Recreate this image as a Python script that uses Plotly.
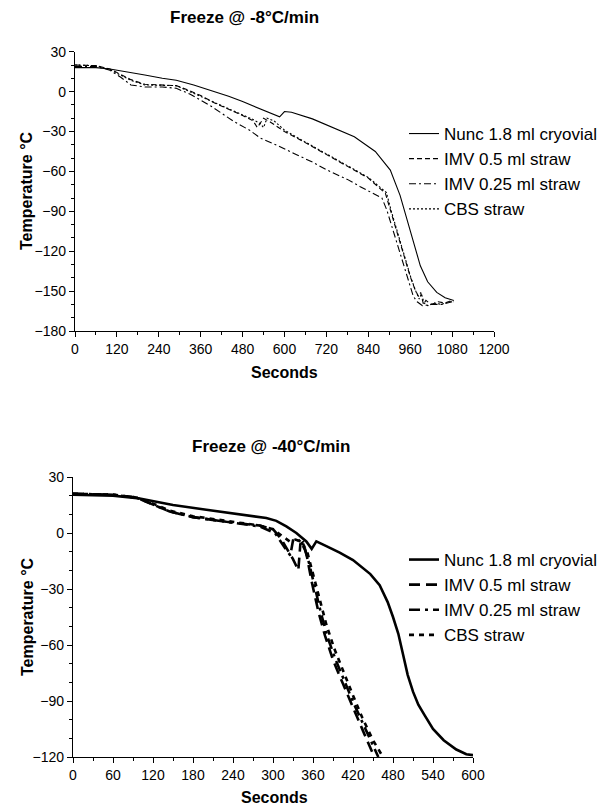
import plotly.graph_objects as go

W, H = 605, 806

# ---------------- Data: Freeze @ -8°C/min ----------------
t8_nunc_s = [0, 60, 100, 150, 200, 250, 290, 340, 390, 440, 480, 530, 580, 586, 600, 620, 680, 740, 800, 860, 903, 931, 950, 970, 989, 1010, 1036, 1060, 1085]
t8_nunc_T = [18, 18, 17, 15, 12.5, 10, 8.5, 5, 1, -3.5, -7.5, -13, -18.5, -19, -15, -15.5, -20.5, -27, -34, -45, -59, -78, -95, -114, -131, -143, -151, -155, -157]

t8_imv05_s = [0, 60, 100, 130, 160, 200, 250, 290, 320, 360, 400, 440, 480, 510, 522, 530, 540, 560, 600, 650, 720, 780, 840, 889, 903, 931, 960, 974, 984, 990, 998, 1005, 1020, 1040, 1060, 1080]
t8_imv05_T = [20, 19.5, 17, 13, 9, 5.5, 5, 4.5, 1.5, -3, -8.5, -13, -18, -22, -27, -24, -20, -23, -30, -37, -47.5, -56, -65, -76.5, -89, -114, -139, -149, -154, -151, -160, -157, -160, -158, -159, -157]

t8_imv025_s = [0, 60, 100, 130, 160, 200, 250, 290, 330, 390, 455, 500, 531, 580, 627, 680, 722, 780, 817, 860, 879, 893, 922, 950, 969, 980, 995, 1020, 1050, 1080]
t8_imv025_T = [19, 19, 16, 11, 5, 3.5, 3.5, 2.5, -2, -11, -22.5, -29, -35, -40.5, -46.5, -53, -59, -66, -71.5, -77, -80, -89, -114, -139, -154, -158, -161, -160, -160, -158]

t8_cbs_s = [0, 60, 100, 130, 160, 200, 250, 290, 320, 360, 400, 440, 480, 510, 530, 540, 550, 570, 600, 650, 720, 780, 840, 892, 906, 934, 962, 976, 986, 992, 1000, 1010, 1030, 1050, 1070, 1085]
t8_cbs_T = [20, 19.5, 16.5, 12.5, 8.5, 5, 4.5, 4.5, 1, -3.5, -8, -12.5, -17.5, -21, -24, -27, -20, -22, -29, -36.5, -47, -55.5, -64.5, -76, -90, -115, -140, -150, -156, -152, -159, -161, -159, -160, -158, -158]

# ---------------- Data: Freeze @ -40°C/min ----------------
t40_nunc_s = [0, 60, 100, 150, 200, 250, 290, 305, 320, 335, 350, 358, 365, 380, 400, 420, 446, 460, 472, 480, 488, 495, 502, 510, 518, 528, 540, 556, 575, 590, 600]
t40_nunc_T = [20.5, 20, 18.5, 15, 12.5, 10, 8, 6.5, 3.5, 0, -4.5, -8.5, -4.5, -7, -10.5, -14.5, -22, -28, -37, -45, -54, -65, -76, -85, -92, -98, -105, -111, -116, -118.5, -119]

t40_imv05_s = [0, 60, 95, 115, 145, 180, 230, 280, 300, 312, 320, 330, 338, 341, 345, 350, 358, 368, 378, 390, 404, 418, 435, 452]
t40_imv05_T = [21, 20.5, 19, 16, 11.5, 8.5, 6, 4, 2, -3, -8, -14, -20, -6, -5, -11, -26, -42, -55, -68, -80, -92, -106, -120]

t40_imv025_s = [0, 60, 95, 115, 145, 180, 230, 280, 303, 310, 318, 326, 330, 336, 342, 348, 354, 362, 372, 382, 394, 408, 422, 440, 458]
t40_imv025_T = [21, 20.5, 19, 16, 11.5, 8.5, 6, 3.5, 0, -4, -8, -12, -4, -3, -5, -9, -16, -28, -43, -56, -68, -80, -92, -106, -120]

t40_cbs_s = [0, 60, 95, 115, 145, 180, 230, 280, 300, 315, 325, 334, 344, 352, 360, 370, 380, 392, 406, 420, 434, 450, 465]
t40_cbs_T = [21, 20.5, 19, 16.5, 12, 9, 6.5, 4, 2, -2, -4.5, -3.5, -5, -11, -22, -36, -49, -62, -75, -87, -99, -111, -120]

names = ["Nunc 1.8 ml cryovial", "IMV 0.5 ml straw", "IMV 0.25 ml straw", "CBS straw"]

FONT = "Liberation Sans, Arial, sans-serif"

fig = go.Figure()

top_series = [(t8_nunc_s, t8_nunc_T), (t8_imv05_s, t8_imv05_T), (t8_imv025_s, t8_imv025_T), (t8_cbs_s, t8_cbs_T)]
top_dash = ["solid", "5px,3px", "7px,3px,2px,3px", "2px,2px"]
for i, ((s, T), nm) in enumerate(zip(top_series, names)):
    fig.add_trace(go.Scatter(x=s, y=T, mode="lines", name=nm,
                             line=dict(color="black", width=1.1, dash=top_dash[i]),
                             xaxis="x", yaxis="y", legend="legend", legendgroup="a%d" % i))

bot_series = [(t40_nunc_s, t40_nunc_T), (t40_imv05_s, t40_imv05_T), (t40_imv025_s, t40_imv025_T), (t40_cbs_s, t40_cbs_T)]
bot_dash = ["solid", "11px,6px", "11px,5px,3px,5px", "5px,5px"]
for i, ((s, T), nm) in enumerate(zip(bot_series, names)):
    fig.add_trace(go.Scatter(x=s, y=T, mode="lines", name=nm,
                             line=dict(color="black", width=2.6, dash=bot_dash[i]),
                             xaxis="x2", yaxis="y2", legend="legend2", legendgroup="b%d" % i))

def px(x):
    return x / W

def py(y):
    return 1 - y / H

axis_common = dict(showline=True, linecolor="black", linewidth=1.2, ticks="outside", ticklen=5,
                   tickwidth=1.2, tickcolor="black", showgrid=False, zeroline=False, automargin=False,
                   tickfont=dict(family=FONT, size=14, color="black"), mirror=False)

fig.update_layout(
    template="none",
    width=W, height=H, margin=dict(l=0, r=0, t=0, b=0, autoexpand=False),
    paper_bgcolor="white", plot_bgcolor="white",
    font=dict(family=FONT, color="black"),
    xaxis=dict(domain=[px(75), px(494)], range=[0, 1200], dtick=120, tick0=0, anchor="y",
               minor=dict(dtick=60, ticks="outside", ticklen=3, tickcolor="black", tickwidth=1.2), **axis_common),
    yaxis=dict(domain=[py(331), py(51.7)], range=[-180, 30], dtick=30, tick0=0, anchor="x",
               minor=dict(dtick=10, ticks="outside", ticklen=3, tickcolor="black", tickwidth=1.2), **axis_common),
    xaxis2=dict(domain=[px(73), px(473)], range=[0, 600], dtick=60, tick0=0, anchor="y2",
                minor=dict(dtick=30, ticks="outside", ticklen=3, tickcolor="black", tickwidth=1.2), **axis_common),
    yaxis2=dict(domain=[py(757), py(477)], range=[-120, 30], dtick=30, tick0=0, anchor="x2",
                minor=dict(dtick=10, ticks="outside", ticklen=3, tickcolor="black", tickwidth=1.2), **axis_common),
    legend=dict(x=px(404), y=py(116), xanchor="left", yanchor="top", bgcolor="rgba(0,0,0,0)",
                font=dict(family=FONT, size=17, color="black"), tracegroupgap=0, itemwidth=30),
    legend2=dict(x=px(404), y=py(542), xanchor="left", yanchor="top", bgcolor="rgba(0,0,0,0)",
                 font=dict(family=FONT, size=17, color="black"), tracegroupgap=0, itemwidth=30),
    showlegend=True,
)

ann = [
    ("<b>Freeze @ -8°C/min</b>", 244, 17, 17, 0),
    ("<b>Freeze @ -40°C/min</b>", 271, 447, 17, 0),
    ("<b>Seconds</b>", 284, 372, 16, 0),
    ("<b>Seconds</b>", 274, 797, 16, 0),
    ("<b>Temperature °C</b>", 27, 191, 16, -90),
    ("<b>Temperature °C</b>", 27, 617, 16, -90),
]
for text, x, y, size, ang in ann:
    fig.add_annotation(text=text, x=px(x), y=py(y), xref="paper", yref="paper",
                       xanchor="center", yanchor="middle", showarrow=False, textangle=ang,
                       font=dict(family=FONT, size=size, color="black"))

fig.write_html("out.html")
